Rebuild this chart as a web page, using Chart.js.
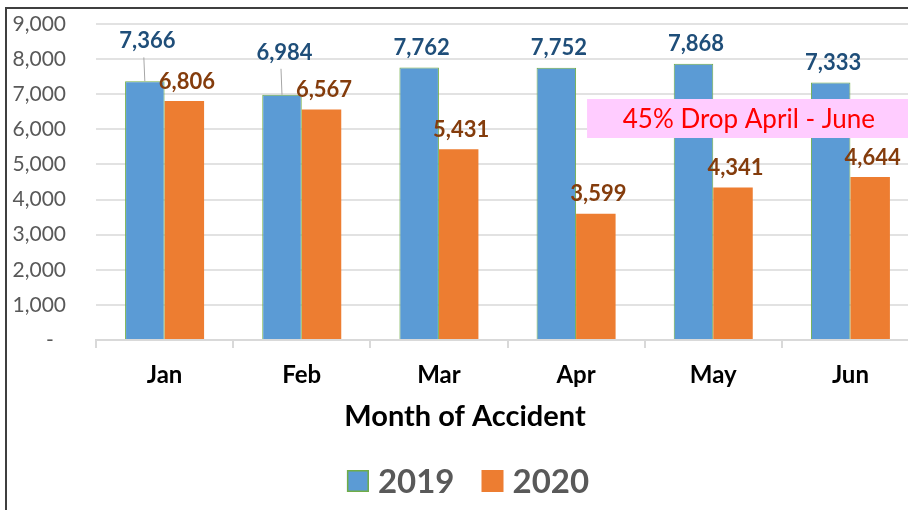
<!DOCTYPE html>
<html><head><meta charset="utf-8">
<script src="https://cdn.jsdelivr.net/npm/chart.js@4.4.0/dist/chart.umd.min.js"></script>
<style>
html,body{margin:0;padding:0;background:#fff;overflow:hidden;width:908px;height:510px;}
#wrap{position:absolute;left:0;top:0;width:930px;height:510px;}
#frame{position:absolute;left:5px;top:7px;width:1000px;height:1000px;border-left:2px solid #3f3f3f;border-top:2px solid #3f3f3f;pointer-events:none;}
</style></head><body>
<div id="wrap"><canvas id="c" width="930" height="510"></canvas></div>
<div id="frame"></div>
<script>
const categories = ['Jan', 'Feb', 'Mar', 'Apr', 'May', 'Jun'];
const seriesNames = ['2019', '2020'];
const values2019 = [7366, 6984, 7762, 7752, 7868, 7333];
const values2020 = [6806, 6567, 5431, 3599, 4341, 4644];
const yTickLabels = ['-', '1,000', '2,000', '3,000', '4,000', '5,000', '6,000', '7,000', '8,000', '9,000'];
const axisTitle = 'Month of Accident';
const noteText = '45% Drop April - June';

const fmt = v => v.toLocaleString('en-US');

const overlay = {
  id: 'overlay',
  afterDatasetsDraw(chart, args, opts) {
    const ctx = chart.ctx, xs = chart.scales.x, ys = chart.scales.y;
    const a = opts.note;
    const l = xs.getPixelForValue(a.xMin), r = xs.getPixelForValue(a.xMax);
    const t = ys.getPixelForValue(a.yMax), b = ys.getPixelForValue(a.yMin);
    ctx.save();
    ctx.fillStyle = a.fill;
    ctx.fillRect(l, t, r - l, b - t);
    ctx.fillStyle = a.color;
    ctx.font = a.font;
    ctx.textAlign = 'center';
    ctx.textBaseline = 'middle';
    ctx.fillText(a.text, (l + r) / 2, (t + b) / 2 + 1);
    chart.data.datasets.forEach((ds, di) => {
      const meta = chart.getDatasetMeta(di);
      const lo = opts.labels[di];
      meta.data.forEach((bar, i) => {
        const lift = lo.lift[i];
        const x = bar.x + lo.dx, y = bar.y - lo.gap - lift;
        if (lift > 0) {
          ctx.strokeStyle = '#a6a6a6';
          ctx.lineWidth = 1;
          ctx.beginPath();
          ctx.moveTo(bar.x - 1, y + 16);
          ctx.lineTo(bar.x, bar.y);
          ctx.stroke();
        }
        ctx.fillStyle = lo.color;
        ctx.font = lo.font;
        ctx.textAlign = 'center';
        ctx.textBaseline = 'middle';
        ctx.fillText(fmt(ds.data[i]), x, y);
      });
    });
    ctx.restore();
  },
  afterDraw(chart, args, opts) {
    const ctx = chart.ctx;
    ctx.save();
    ctx.textBaseline = 'middle';
    ctx.textAlign = 'center';
    ctx.fillStyle = opts.title.color;
    ctx.font = opts.title.font;
    ctx.fillText(opts.title.text, chart.width / 2, opts.title.y);
    const lg = opts.legend;
    ctx.font = lg.font;
    const items = chart.data.datasets.map(ds => ({ text: ds.label, w: ctx.measureText(ds.label).width, fill: ds.backgroundColor, stroke: ds.borderColor, bw: ds.borderWidth }));
    let total = 0;
    items.forEach((it, i) => { total += lg.box + lg.gap + it.w + (i ? lg.spacing : 0); });
    let x = chart.width / 2 + lg.shift - total / 2;
    items.forEach(it => {
      ctx.fillStyle = it.fill;
      ctx.fillRect(x, lg.y - lg.box / 2, lg.box, lg.box);
      if (it.bw) {
        ctx.strokeStyle = it.stroke;
        ctx.lineWidth = 1.5;
        ctx.strokeRect(x + 0.75, lg.y - lg.box / 2 + 0.75, lg.box - 1.5, lg.box - 1.5);
      }
      x += lg.box + lg.gap;
      ctx.fillStyle = lg.color;
      ctx.textAlign = 'left';
      ctx.fillText(it.text, x, lg.y + 1);
      x += it.w + lg.spacing;
    });
    ctx.restore();
  }
};

new Chart(document.getElementById('c'), {
  type: 'bar',
  data: {
    labels: categories,
    datasets: [
      { label: seriesNames[0], data: values2019, backgroundColor: '#5B9BD5', borderColor: '#70AD47', borderWidth: 1, barPercentage: 1, categoryPercentage: 0.576 },
      { label: seriesNames[1], data: values2020, backgroundColor: '#ED7D31', borderColor: '#ED7D31', borderWidth: 0, barPercentage: 1, categoryPercentage: 0.576 }
    ]
  },
  options: {
    responsive: false,
    animation: false,
    layout: { padding: { top: 24, left: 0, right: 11, bottom: 120 } },
    plugins: {
      legend: { display: false },
      tooltip: { enabled: false },
      overlay: {
        note: { text: noteText, xMin: 3.08, xMax: 5.44, yMin: 5753, yMax: 6864, fill: '#FFCCFF', color: '#FF0000', font: '26px Lato' },
        labels: [
          { color: '#1F4E79', font: 'bold 22px Lato', dx: 2.5, gap: 19.5, lift: [20.5, 22.5, 0, 0, 0, 0] },
          { color: '#843C0C', font: 'bold 22px Lato', dx: 2.5, gap: 19.5, lift: [0, 0, 0, 0, 0, 0] }
        ],
        title: { text: axisTitle, font: 'bold 29px Lato', color: '#000000', y: 417 },
        legend: { font: 'bold 33px Lato', color: '#595959', y: 481, box: 22, gap: 9, spacing: 27, shift: 3 }
      }
    },
    scales: {
      x: {
        afterFit(s) { s.height = 50; s.paddingLeft = 0; s.paddingRight = 0; },
        grid: { offset: true, drawOnChartArea: false, drawTicks: true, tickLength: 8, color: '#d9d9d9', lineWidth: 2 },
        border: { display: true, color: '#d9d9d9', width: 2 },
        ticks: { color: '#000000', font: { family: 'Lato', size: 24, weight: 'bold' }, padding: 13, maxRotation: 0 }
      },
      y: {
        min: 0, max: 9000,
        afterFit(s) { s.width = 96; s.paddingTop = 0; s.paddingBottom = 0; },
        grid: { color: '#e2e2e2', lineWidth: 2, drawTicks: false },
        border: { display: false },
        ticks: {
          stepSize: 1000, padding: 30, color: '#595959',
          font: { family: 'Lato', size: 21 },
          callback: (v, i) => (i === 0 ? yTickLabels[0] + '\u2007' : yTickLabels[i])
        }
      }
    }
  },
  plugins: [overlay]
});
</script>
</body></html>
